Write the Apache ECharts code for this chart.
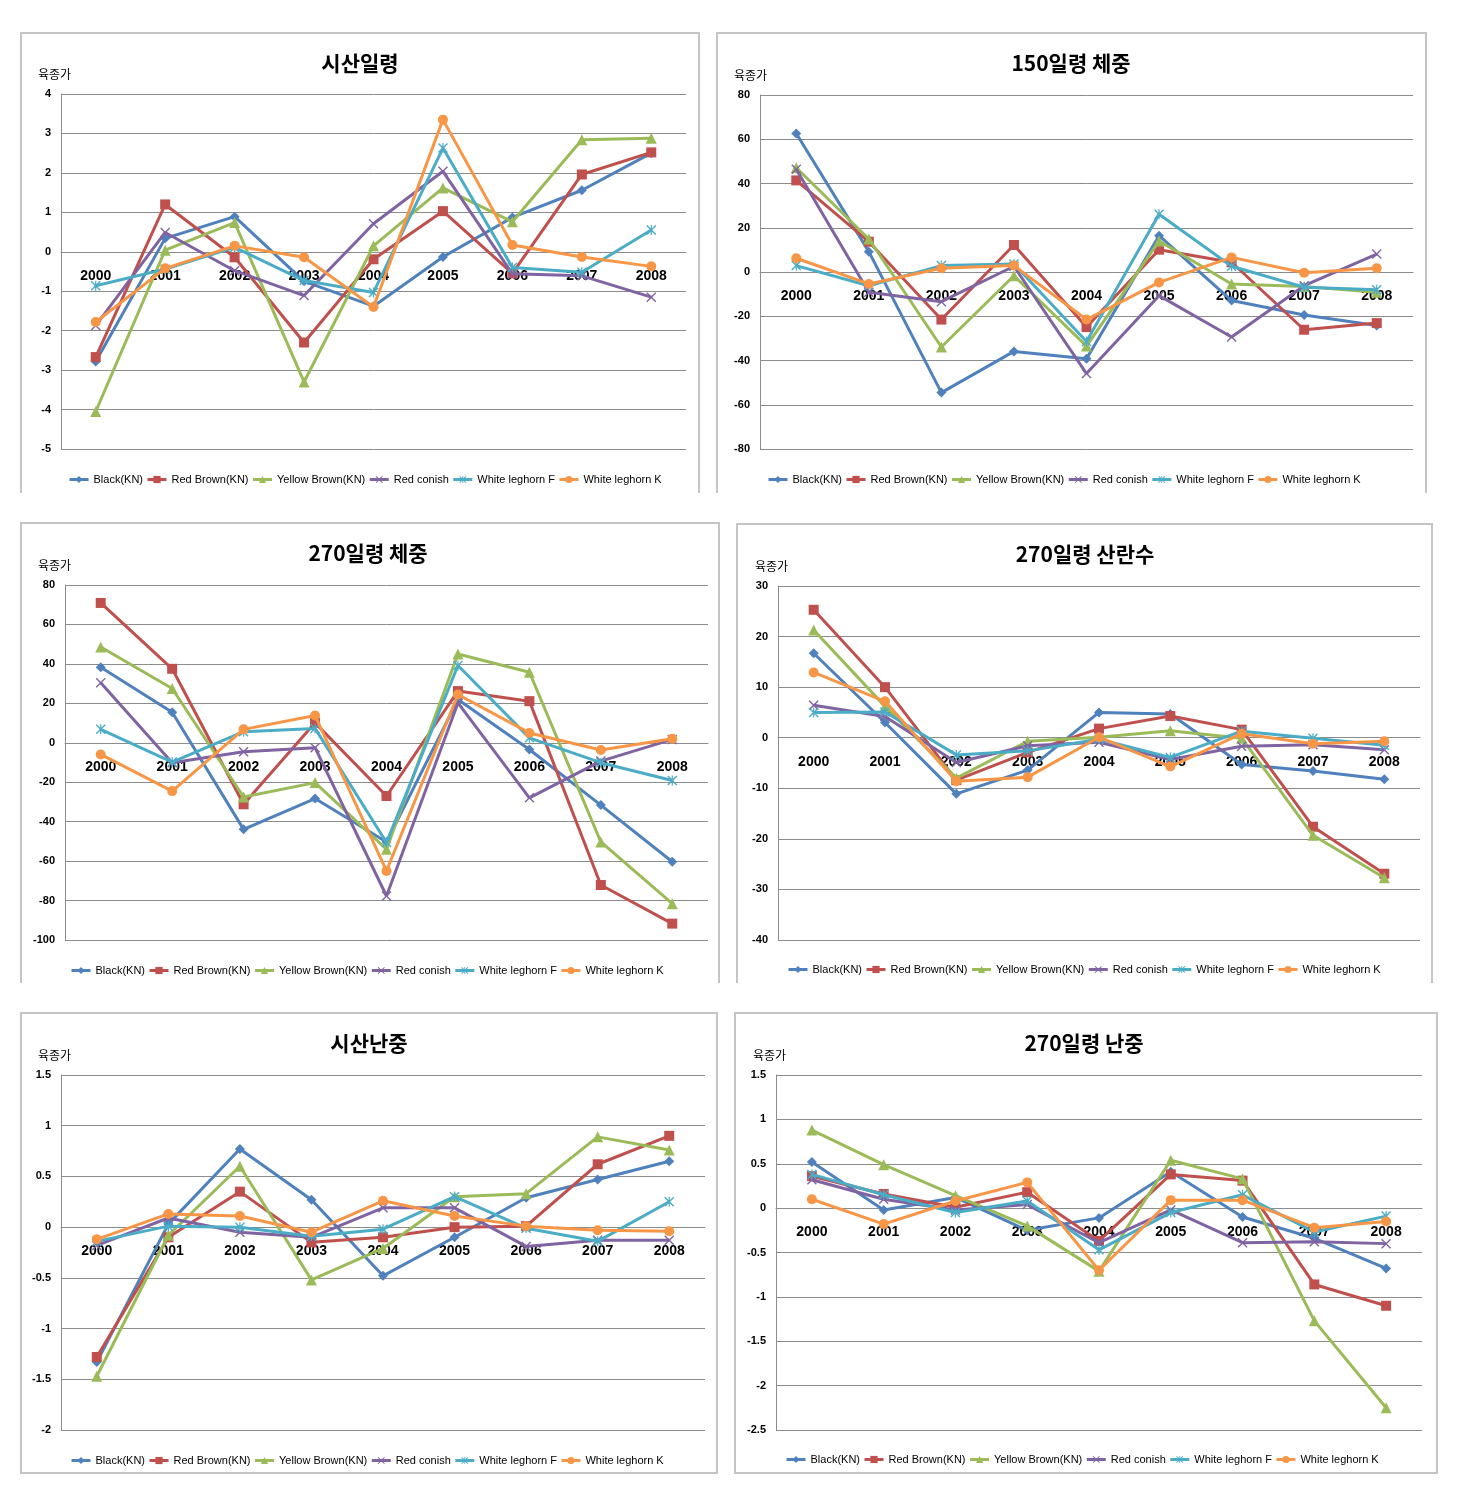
<!DOCTYPE html>
<html><head><meta charset="utf-8">
<script src="https://cdn.jsdelivr.net/npm/echarts@6/dist/echarts.min.js"></script>
<style>html,body{margin:0;padding:0;background:#fff;} #c{width:1466px;height:1493px;}</style>
</head><body><div id="c"></div>
<script>
// ---------- data ----------
const years = ['2000','2001','2002','2003','2004','2005','2006','2007','2008'];
const seriesNames = ['Black(KN)','Red Brown(KN)','Yellow Brown(KN)','Red conish','White leghorn F','White leghorn K'];

// 시산일령 (order: Black, Red Brown, Yellow Brown, Red conish, White leghorn F, White leghorn K)
const ageFirstEgg = [
  [-2.78, 0.34, 0.89, -0.75, -1.38, -0.13, 0.87, 1.56, 2.50],
  [-2.67, 1.20, -0.14, -2.30, -0.19, 1.03, -0.55, 1.96, 2.52],
  [-4.05, 0.04, 0.74, -3.30, 0.15, 1.62, 0.76, 2.84, 2.88],
  [-1.87, 0.49, -0.48, -1.11, 0.71, 2.04, -0.56, -0.61, -1.15],
  [-0.86, -0.44, 0.11, -0.73, -1.03, 2.63, -0.40, -0.52, 0.55],
  [-1.78, -0.42, 0.15, -0.14, -1.40, 3.35, 0.17, -0.13, -0.37]
];
// 150일령 체중
const weight150 = [
  [62.6, 9.2, -54.5, -35.9, -39.2, 16.4, -12.9, -19.4, -24.2],
  [41.4, 13.7, -21.5, 12.2, -24.9, 10.1, 4.4, -26.1, -23.1],
  [47.1, 14.9, -33.9, -1.7, -33.5, 14.0, -5.4, -6.5, -9.2],
  [46.4, -9.2, -13.4, 2.6, -45.9, -10.7, -29.4, -6.2, 8.1],
  [2.9, -6.2, 2.9, 3.6, -31.4, 26.1, 2.6, -6.9, -8.0],
  [6.2, -5.4, 1.7, 2.9, -21.5, -4.7, 6.6, -0.3, 1.7]
];
// 270일령 체중
const weight270 = [
  [38.3, 15.5, -43.9, -28.3, -50.3, 21.9, -3.4, -31.6, -60.3],
  [70.9, 37.5, -31.2, 10.1, -27.0, 26.2, 21.1, -72.1, -91.7],
  [48.6, 27.5, -27.5, -20.2, -54.0, 45.0, 35.8, -50.3, -81.6],
  [30.4, -10.1, -4.6, -2.5, -77.7, 20.2, -27.9, -9.3, 1.7],
  [6.8, -9.8, 5.6, 7.3, -50.6, 39.2, 2.5, -10.1, -19.1],
  [-5.9, -24.5, 6.8, 13.8, -65.0, 24.5, 5.0, -3.7, 2.0]
];
// 270일령 산란수
const eggs270 = [
  [16.7, 3.0, -11.1, -6.4, 5.0, 4.7, -5.3, -6.6, -8.2],
  [25.3, 10.0, -8.4, -2.9, 1.8, 4.3, 1.6, -17.6, -26.9],
  [21.3, 6.2, -8.0, -0.7, 0.1, 1.4, -0.1, -19.3, -27.7],
  [6.4, 4.2, -4.9, -1.6, -0.9, -4.3, -1.7, -1.4, -2.4],
  [5.0, 5.1, -3.4, -2.6, -0.3, -3.9, 1.3, -0.1, -1.5],
  [12.9, 7.2, -8.6, -7.8, 0.1, -5.7, 0.8, -1.2, -0.7]
];
// 시산난중
const firstEggWeight = [
  [-1.33, 0.03, 0.77, 0.27, -0.48, -0.10, 0.29, 0.47, 0.65],
  [-1.28, -0.10, 0.35, -0.15, -0.10, 0.00, 0.01, 0.62, 0.90],
  [-1.47, -0.08, 0.60, -0.52, -0.21, 0.30, 0.33, 0.89, 0.76],
  [-0.18, 0.09, -0.05, -0.10, 0.19, 0.19, -0.19, -0.13, -0.13],
  [-0.14, 0.01, 0.00, -0.09, -0.02, 0.30, -0.01, -0.14, 0.25],
  [-0.12, 0.13, 0.11, -0.05, 0.26, 0.11, 0.01, -0.03, -0.04]
];
// 270일령 난중
const eggWeight270 = [
  [0.52, -0.02, 0.12, -0.25, -0.11, 0.41, -0.10, -0.34, -0.68],
  [0.36, 0.16, 0.01, 0.18, -0.37, 0.38, 0.31, -0.86, -1.10],
  [0.88, 0.49, 0.14, -0.20, -0.71, 0.54, 0.33, -1.27, -2.25],
  [0.32, 0.10, -0.02, 0.04, -0.39, -0.02, -0.39, -0.38, -0.40],
  [0.38, 0.15, -0.05, 0.08, -0.47, -0.05, 0.15, -0.27, -0.09],
  [0.10, -0.18, 0.08, 0.29, -0.70, 0.09, 0.09, -0.22, -0.15]
];

// ---------- styling / layout ----------
const colors = ['#4F81BD','#C0504D','#9BBB59','#8064A2','#4BACC6','#F79646'];
const xPath = 'path://M0,1 L1,0 L5,4 L9,0 L10,1 L6,5 L10,9 L9,10 L5,6 L1,10 L0,9 L4,5 Z';
const starPath = 'path://M0,1 L1,0 L5,4 L9,0 L10,1 L6,5 L10,9 L9,10 L5,6 L1,10 L0,9 L4,5 Z M4.4,0 L5.6,0 L5.6,10 L4.4,10 Z';
const symbols = ['diamond','rect','triangle',xPath,starPath,'circle'];
const symbolSizes = [10,10,11,10,10,10];

const panels = [
  {title:'시산일령', data:ageFirstEgg, min:-5, max:4, interval:1,
   grid:{left:61, top:94, width:625, height:355}, box:[21,33,699,493,false],
   titleXY:[360,63], ylab:[38,74], legend:[63,469]},
  {title:'150일령 체중', data:weight150, min:-80, max:80, interval:20,
   grid:{left:760, top:95, width:653, height:354}, box:[717,33,1426,493,false],
   titleXY:[1071,63], ylab:[734,75], legend:[762,469]},
  {title:'270일령 체중', data:weight270, min:-100, max:80, interval:20,
   grid:{left:65, top:585, width:643, height:355}, box:[21,523,719,983,false],
   titleXY:[368,553], ylab:[38,565], legend:[65,960]},
  {title:'270일령 산란수', data:eggs270, min:-40, max:30, interval:10,
   grid:{left:778, top:586, width:642, height:354}, box:[737,524,1432,983,false],
   titleXY:[1085,554], ylab:[755,566], legend:[782,959]},
  {title:'시산난중', data:firstEggWeight, min:-2, max:1.5, interval:0.5,
   grid:{left:61, top:1075, width:644, height:355}, box:[21,1013,717,1473,true],
   titleXY:[369,1043], ylab:[38,1055], legend:[65,1450]},
  {title:'270일령 난중', data:eggWeight270, min:-2.5, max:1.5, interval:0.5,
   grid:{left:776, top:1075, width:646, height:355}, box:[735,1013,1437,1473,true],
   titleXY:[1084,1043], ylab:[753,1055], legend:[780,1449]}
];

const gridColor = '#8c8c8c';
const grids = [], xAxes = [], yAxes = [], series = [], legends = [], graphics = [];

panels.forEach((p, i) => {
  grids.push(Object.assign({containLabel:false}, p.grid));
  // place the category axis on the zero line (Excel style)
  const zeroOffset = -(0 - p.min) / (p.max - p.min) * p.grid.height;
  xAxes.push({
    type:'category', gridIndex:i, data:years, boundaryGap:true,
    position:'bottom', offset:zeroOffset,
    axisLine:{show:true, onZero:false, lineStyle:{color:gridColor, width:1}},
    axisTick:{show:false},
    axisLabel:{margin:17, color:'#000', fontWeight:'bold', fontSize:14, fontFamily:'Liberation Sans'},
    splitLine:{show:false}
  });
  yAxes.push({
    type:'value', gridIndex:i, min:p.min, max:p.max, interval:p.interval,
    axisLine:{show:true, lineStyle:{color:gridColor, width:1}},
    axisTick:{show:false},
    axisLabel:{margin:10, color:'#000', fontWeight:'bold', fontSize:11, fontFamily:'Liberation Sans'},
    splitLine:{show:true, lineStyle:{color:gridColor, width:1}}
  });
  p.data.forEach((vals, j) => {
    series.push({
      type:'line', name:seriesNames[j], xAxisIndex:i, yAxisIndex:i, data:vals,
      symbol:symbols[j], symbolSize:symbolSizes[j], showAllSymbol:true,
      lineStyle:{color:colors[j], width:3},
      itemStyle:{color:colors[j]},
      emphasis:{disabled:true}, z:2+j
    });
  });
  legends.push({
    left:p.legend[0], top:p.legend[1], orient:'horizontal',
    data:seriesNames, itemWidth:19, itemHeight:9, itemGap:3,
    lineStyle:{width:3},
    textStyle:{fontFamily:'Liberation Sans', fontSize:11, color:'#000'},
    selectedMode:false
  });
  const [x0,y0,x1,y1,closed] = p.box;
  graphics.push({
    type: closed ? 'rect' : 'polyline',
    shape: closed ? {x:x0, y:y0, width:x1-x0, height:y1-y0} : {points:[[x0,y1],[x0,y0],[x1,y0],[x1,y1]]},
    style:{fill:null, stroke:'#c4c4c4', lineWidth:2}, silent:true, z:0
  });
  graphics.push({
    type:'text', x:p.titleXY[0], y:p.titleXY[1], silent:true,
    style:{text:p.title, textAlign:'center', textVerticalAlign:'middle',
      font:'bold 21px "Noto Sans CJK KR"', fill:'#000'}
  });
  graphics.push({
    type:'text', x:p.ylab[0], y:p.ylab[1], silent:true,
    style:{text:'육종가', textAlign:'left', textVerticalAlign:'middle',
      font:'12px "Noto Sans CJK KR"', fill:'#000'}
  });
});

const chart = echarts.init(document.getElementById('c'), null, {renderer:'canvas'});
chart.setOption({
  animation:false,
  backgroundColor:'#fff',
  grid:grids, xAxis:xAxes, yAxis:yAxes, series:series, legend:legends,
  graphic:graphics
});
</script>
</body></html>
